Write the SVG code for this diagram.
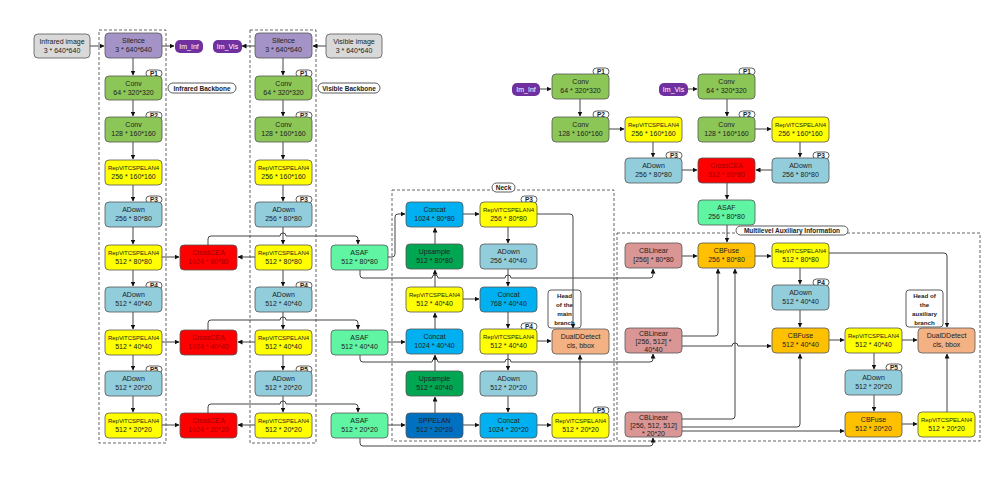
<svg xmlns="http://www.w3.org/2000/svg" width="1000" height="477" viewBox="0 0 1000 477">
<defs>
<marker id="a" viewBox="0 0 10 10" refX="9" refY="5" markerWidth="5" markerHeight="5" orient="auto"><path d="M0,0L10,5L0,10z" fill="#111"/></marker>
<style>
text{font-family:"Liberation Sans",Arial,sans-serif;font-size:7px;text-anchor:middle;fill:#222}
rect.n{stroke:#555;stroke-width:0.8}
.gray{fill:#d9d9d9}.sil{fill:#a493c6}.conv{fill:#8cc657}.yel{fill:#ffff00}.ad{fill:#92cddc}.red{fill:#ff0000}
.asaf{fill:#5ff5a3}.cat{fill:#00b0f0}.ups{fill:#00a651}.spp{fill:#0070c0}.det{fill:#f4b183}.cbl{fill:#d99694}.cbf{fill:#ffc000}
.pill{fill:#7030a0}
text.w{fill:#fff}text.r{fill:#a00000}
.c path,.c line{fill:none;stroke:#444;stroke-width:1}
.dash{fill:none;stroke:#555;stroke-width:0.9;stroke-dasharray:3,2}
.tag{fill:#fff;stroke:#333;stroke-width:0.8}
text.t{font-size:6.5px;font-weight:bold}
text.b{font-weight:bold;font-size:6.2px}
</style>
</defs>
<rect width="1000" height="477" fill="#fff"/>
<rect class="dash" x="99" y="30" width="67" height="413"/>
<rect class="dash" x="250" y="30" width="66" height="413"/>
<rect class="dash" x="392" y="190" width="222" height="251"/>
<rect class="dash" x="617" y="233" width="363" height="208"/>
<g id="labels">
<rect class="tag" x="168" y="83" width="68" height="10" rx="5"/><text class="t" x="202" y="90.5">Infrared Backbone</text>
<rect class="tag" x="318" y="83" width="62" height="10" rx="5"/><text class="t" x="349" y="90.5">Visible Backbone</text>
<rect class="tag" x="492" y="183" width="23" height="9" rx="4.5"/><text class="t" x="503.5" y="190">Neck</text>
<rect class="tag" x="736" y="226" width="112" height="9" rx="4.5"/><text class="t" x="792" y="233">Multilevel Auxiliary Information</text>
<rect class="tag" x="548" y="290" width="33" height="38" rx="3"/><text class="b" x="564.5" y="298">Head</text><text class="b" x="564.5" y="307">of the</text><text class="b" x="564.5" y="316">main</text><text class="b" x="564.5" y="325">branch</text>
<rect class="tag" x="906" y="290" width="37" height="37" rx="3"/><text class="b" x="924.5" y="298">Head of</text><text class="b" x="924.5" y="307">the</text><text class="b" x="924.5" y="316">auxiliary</text><text class="b" x="924.5" y="325">branch</text>
</g>
<g id="ptags">
<rect class="tag" x="146" y="70" width="16" height="7" rx="3.5"/><text class="t" x="154" y="75.8">P1</text>
<rect class="tag" x="146" y="112" width="16" height="7" rx="3.5"/><text class="t" x="154" y="117.8">P2</text>
<rect class="tag" x="146" y="196" width="16" height="7" rx="3.5"/><text class="t" x="154" y="201.8">P3</text>
<rect class="tag" x="146" y="282" width="16" height="7" rx="3.5"/><text class="t" x="154" y="287.8">P4</text>
<rect class="tag" x="146" y="366" width="16" height="7" rx="3.5"/><text class="t" x="154" y="371.8">P5</text>
<rect class="tag" x="296" y="70" width="16" height="7" rx="3.5"/><text class="t" x="304" y="75.8">P1</text>
<rect class="tag" x="296" y="112" width="16" height="7" rx="3.5"/><text class="t" x="304" y="117.8">P2</text>
<rect class="tag" x="296" y="196" width="16" height="7" rx="3.5"/><text class="t" x="304" y="201.8">P3</text>
<rect class="tag" x="296" y="282" width="16" height="7" rx="3.5"/><text class="t" x="304" y="287.8">P4</text>
<rect class="tag" x="296" y="366" width="16" height="7" rx="3.5"/><text class="t" x="304" y="371.8">P5</text>
<rect class="tag" x="521" y="196" width="16" height="7" rx="3.5"/><text class="t" x="529" y="201.8">P3</text>
<rect class="tag" x="521" y="323" width="16" height="7" rx="3.5"/><text class="t" x="529" y="328.8">P4</text>
<rect class="tag" x="593" y="407" width="16" height="7" rx="3.5"/><text class="t" x="601" y="412.8">P5</text>
<rect class="tag" x="593" y="68" width="16" height="7" rx="3.5"/><text class="t" x="601" y="73.8">P1</text>
<rect class="tag" x="593" y="111" width="16" height="7" rx="3.5"/><text class="t" x="601" y="116.8">P2</text>
<rect class="tag" x="666" y="152" width="16" height="7" rx="3.5"/><text class="t" x="674" y="157.8">P3</text>
<rect class="tag" x="739" y="68" width="16" height="7" rx="3.5"/><text class="t" x="747" y="73.8">P1</text>
<rect class="tag" x="739" y="111" width="16" height="7" rx="3.5"/><text class="t" x="747" y="116.8">P2</text>
<rect class="tag" x="813" y="152" width="16" height="7" rx="3.5"/><text class="t" x="821" y="157.8">P3</text>
<rect class="tag" x="813" y="279" width="16" height="7" rx="3.5"/><text class="t" x="821" y="284.8">P4</text>
<rect class="tag" x="886" y="364" width="16" height="7" rx="3.5"/><text class="t" x="894" y="369.8">P5</text>
</g>
<g class="c" id="connectors">
<line x1="90" y1="46" x2="104" y2="46" marker-end="url(#a)"/>
<line x1="162" y1="46" x2="174" y2="46" marker-end="url(#a)"/>
<line x1="326" y1="46" x2="313" y2="46" marker-end="url(#a)"/>
<line x1="255" y1="46" x2="242" y2="46" marker-end="url(#a)"/>
<line x1="133" y1="58" x2="133" y2="75" marker-end="url(#a)"/>
<line x1="133" y1="100" x2="133" y2="116" marker-end="url(#a)"/>
<line x1="133" y1="142" x2="133" y2="159" marker-end="url(#a)"/>
<line x1="133" y1="185" x2="133" y2="201" marker-end="url(#a)"/>
<line x1="133" y1="227" x2="133" y2="244" marker-end="url(#a)"/>
<line x1="133" y1="270" x2="133" y2="286" marker-end="url(#a)"/>
<line x1="133" y1="312" x2="133" y2="329" marker-end="url(#a)"/>
<line x1="133" y1="355" x2="133" y2="370" marker-end="url(#a)"/>
<line x1="133" y1="396" x2="133" y2="412" marker-end="url(#a)"/>
<line x1="283" y1="58" x2="283" y2="75" marker-end="url(#a)"/>
<line x1="283" y1="100" x2="283" y2="116" marker-end="url(#a)"/>
<line x1="283" y1="142" x2="283" y2="159" marker-end="url(#a)"/>
<line x1="283" y1="185" x2="283" y2="201" marker-end="url(#a)"/>
<line x1="283" y1="227" x2="283" y2="244" marker-end="url(#a)"/>
<line x1="283" y1="270" x2="283" y2="286" marker-end="url(#a)"/>
<line x1="283" y1="312" x2="283" y2="329" marker-end="url(#a)"/>
<line x1="283" y1="355" x2="283" y2="370" marker-end="url(#a)"/>
<line x1="283" y1="396" x2="283" y2="412" marker-end="url(#a)"/>
<line x1="162" y1="257" x2="179" y2="257" marker-end="url(#a)"/>
<line x1="162" y1="342" x2="179" y2="342" marker-end="url(#a)"/>
<line x1="162" y1="425" x2="179" y2="425" marker-end="url(#a)"/>
<line x1="255" y1="257" x2="238" y2="257" marker-end="url(#a)"/>
<line x1="255" y1="342" x2="238" y2="342" marker-end="url(#a)"/>
<line x1="255" y1="425" x2="238" y2="425" marker-end="url(#a)"/>
<path d="M208,245V239Q208,236 211,236H280a3,3 0 0 1 6,0H355Q358,236 358,239V244" marker-end="url(#a)"/>
<path d="M208,330V323Q208,320 211,320H280a3,3 0 0 1 6,0H355Q358,320 358,323V329" marker-end="url(#a)"/>
<path d="M208,413V407Q208,404 211,404H280a3,3 0 0 1 6,0H355Q358,404 358,407V412" marker-end="url(#a)"/>
<path d="M388,257H392Q395,257 395,254V217Q395,214 398,214H405" marker-end="url(#a)"/>
<line x1="388" y1="342" x2="405" y2="342" marker-end="url(#a)"/>
<line x1="388" y1="425" x2="405" y2="425" marker-end="url(#a)"/>
<path d="M360,270V275Q360,278 363,278H432a3,3 0 0 1 6,0H505a3,3 0 0 1 6,0H650Q653,278 653,275V269" marker-end="url(#a)"/>
<path d="M360,355V359Q360,362 363,362H432a3,3 0 0 1 6,0H505a3,3 0 0 1 6,0H650Q653,362 653,359V354" marker-end="url(#a)"/>
<path d="M360,438V443Q360,446 363,446H650Q653,446 653,443V438" marker-end="url(#a)"/>
<line x1="435" y1="413" x2="435" y2="397" marker-end="url(#a)"/>
<line x1="435" y1="371" x2="435" y2="355" marker-end="url(#a)"/>
<line x1="435" y1="329" x2="435" y2="313" marker-end="url(#a)"/>
<line x1="435" y1="287" x2="435" y2="270" marker-end="url(#a)"/>
<line x1="435" y1="244" x2="435" y2="228" marker-end="url(#a)"/>
<line x1="463" y1="214" x2="479" y2="214" marker-end="url(#a)"/>
<line x1="463" y1="299" x2="479" y2="299" marker-end="url(#a)"/>
<line x1="463" y1="425" x2="479" y2="425" marker-end="url(#a)"/>
<line x1="537" y1="425" x2="551" y2="425" marker-end="url(#a)"/>
<line x1="508" y1="227" x2="508" y2="243" marker-end="url(#a)"/>
<line x1="508" y1="269" x2="508" y2="286" marker-end="url(#a)"/>
<line x1="508" y1="312" x2="508" y2="328" marker-end="url(#a)"/>
<line x1="508" y1="354" x2="508" y2="370" marker-end="url(#a)"/>
<line x1="508" y1="396" x2="508" y2="412" marker-end="url(#a)"/>
<line x1="537" y1="341" x2="551" y2="341" marker-end="url(#a)"/>
<path d="M537,214H570Q573,214 573,217V328" marker-end="url(#a)"/>
<line x1="580" y1="413" x2="580" y2="355" marker-end="url(#a)"/>
<line x1="540" y1="89" x2="551" y2="89" marker-end="url(#a)"/>
<line x1="688" y1="89" x2="697" y2="89" marker-end="url(#a)"/>
<line x1="580" y1="99" x2="580" y2="116" marker-end="url(#a)"/>
<line x1="727" y1="99" x2="727" y2="116" marker-end="url(#a)"/>
<line x1="609" y1="129" x2="624" y2="129" marker-end="url(#a)"/>
<line x1="755" y1="129" x2="771" y2="129" marker-end="url(#a)"/>
<line x1="653" y1="142" x2="653" y2="157" marker-end="url(#a)"/>
<line x1="800" y1="142" x2="800" y2="157" marker-end="url(#a)"/>
<line x1="682" y1="170" x2="697" y2="170" marker-end="url(#a)"/>
<line x1="772" y1="170" x2="756" y2="170" marker-end="url(#a)"/>
<line x1="727" y1="183" x2="727" y2="199" marker-end="url(#a)"/>
<line x1="727" y1="225" x2="727" y2="242" marker-end="url(#a)"/>
<line x1="682" y1="256" x2="697" y2="256" marker-end="url(#a)"/>
<line x1="755" y1="256" x2="771" y2="256" marker-end="url(#a)"/>
<line x1="800" y1="268" x2="800" y2="284" marker-end="url(#a)"/>
<line x1="800" y1="310" x2="800" y2="327" marker-end="url(#a)"/>
<line x1="829" y1="340" x2="844" y2="340" marker-end="url(#a)"/>
<line x1="902" y1="340" x2="917" y2="340" marker-end="url(#a)"/>
<line x1="874" y1="353" x2="874" y2="369" marker-end="url(#a)"/>
<line x1="874" y1="395" x2="874" y2="411" marker-end="url(#a)"/>
<line x1="902" y1="424" x2="917" y2="424" marker-end="url(#a)"/>
<line x1="947" y1="412" x2="947" y2="354" marker-end="url(#a)"/>
<path d="M829,253H944Q947,253 947,256V327" marker-end="url(#a)"/>
<path d="M682,336H715Q718,336 718,333V269" marker-end="url(#a)"/>
<path d="M682,346H732a3,3 0 0 1 6,0H771" marker-end="url(#a)"/>
<path d="M682,419H732Q735,419 735,416V269" marker-end="url(#a)"/>
<path d="M682,427H797Q800,427 800,424V354" marker-end="url(#a)"/>
<line x1="682" y1="431" x2="844" y2="431" marker-end="url(#a)"/>
</g>
<g id="nodes">
<g id="inf_img"><rect class="n gray" x="34" y="34" width="56" height="24" rx="4"/><text x="62" y="44">Infrared image</text><text x="62" y="53">3 * 640*640</text></g>
<g id="vis_img"><rect class="n gray" x="326" y="34" width="56" height="24" rx="4"/><text x="354" y="44">Visible image</text><text x="354" y="53">3 * 640*640</text></g>
<g id="sil_i"><rect class="n sil" x="105" y="33" width="57" height="25" rx="4"/><text x="133.5" y="43">Silence</text><text x="133.5" y="52">3 * 640*640</text></g>
<g id="sil_v"><rect class="n sil" x="255" y="33" width="57" height="25" rx="4"/><text x="283.5" y="43">Silence</text><text x="283.5" y="52">3 * 640*640</text></g>
<g id="im_inf1"><rect class="pill" x="175" y="40" width="28" height="13" rx="5"/><text class="w" x="189" y="49">Im_Inf</text></g>
<g id="im_vis1"><rect class="pill" x="213" y="40" width="29" height="13" rx="5"/><text class="w" x="227.5" y="49">Im_Vis</text></g>
<g id="i_c1"><rect class="n conv" x="105" y="76" width="57" height="24" rx="4"/><text x="133.5" y="86">Conv</text><text x="133.5" y="95">64 * 320*320</text></g>
<g id="i_c2"><rect class="n conv" x="105" y="117" width="57" height="25" rx="4"/><text x="133.5" y="127">Conv</text><text x="133.5" y="136">128 * 160*160</text></g>
<g id="i_r1"><rect class="n yel" x="105" y="160" width="57" height="25" rx="4"/><text x="133.5" y="170" style="font-size:6px">RepViTCSPELAN4</text><text x="133.5" y="179">256 * 160*160</text></g>
<g id="i_a1"><rect class="n ad" x="105" y="202" width="57" height="25" rx="4"/><text x="133.5" y="212">ADown</text><text x="133.5" y="221">256 * 80*80</text></g>
<g id="i_r2"><rect class="n yel" x="105" y="245" width="57" height="25" rx="4"/><text x="133.5" y="255" style="font-size:6px">RepViTCSPELAN4</text><text x="133.5" y="264">512 * 80*80</text></g>
<g id="i_a2"><rect class="n ad" x="105" y="287" width="57" height="25" rx="4"/><text x="133.5" y="297">ADown</text><text x="133.5" y="306">512 * 40*40</text></g>
<g id="i_r3"><rect class="n yel" x="105" y="330" width="57" height="25" rx="4"/><text x="133.5" y="340" style="font-size:6px">RepViTCSPELAN4</text><text x="133.5" y="349">512 * 40*40</text></g>
<g id="i_a3"><rect class="n ad" x="105" y="371" width="57" height="25" rx="4"/><text x="133.5" y="381">ADown</text><text x="133.5" y="390">512 * 20*20</text></g>
<g id="i_r4"><rect class="n yel" x="105" y="413" width="57" height="25" rx="4"/><text x="133.5" y="423" style="font-size:6px">RepViTCSPELAN4</text><text x="133.5" y="432">512 * 20*20</text></g>
<g id="v_c1"><rect class="n conv" x="255" y="76" width="57" height="24" rx="4"/><text x="283.5" y="86">Conv</text><text x="283.5" y="95">64 * 320*320</text></g>
<g id="v_c2"><rect class="n conv" x="255" y="117" width="57" height="25" rx="4"/><text x="283.5" y="127">Conv</text><text x="283.5" y="136">128 * 160*160</text></g>
<g id="v_r1"><rect class="n yel" x="255" y="160" width="57" height="25" rx="4"/><text x="283.5" y="170" style="font-size:6px">RepViTCSPELAN4</text><text x="283.5" y="179">256 * 160*160</text></g>
<g id="v_a1"><rect class="n ad" x="255" y="202" width="57" height="25" rx="4"/><text x="283.5" y="212">ADown</text><text x="283.5" y="221">256 * 80*80</text></g>
<g id="v_r2"><rect class="n yel" x="255" y="245" width="57" height="25" rx="4"/><text x="283.5" y="255" style="font-size:6px">RepViTCSPELAN4</text><text x="283.5" y="264">512 * 80*80</text></g>
<g id="v_a2"><rect class="n ad" x="255" y="287" width="57" height="25" rx="4"/><text x="283.5" y="297">ADown</text><text x="283.5" y="306">512 * 40*40</text></g>
<g id="v_r3"><rect class="n yel" x="255" y="330" width="57" height="25" rx="4"/><text x="283.5" y="340" style="font-size:6px">RepViTCSPELAN4</text><text x="283.5" y="349">512 * 40*40</text></g>
<g id="v_a3"><rect class="n ad" x="255" y="371" width="57" height="25" rx="4"/><text x="283.5" y="381">ADown</text><text x="283.5" y="390">512 * 20*20</text></g>
<g id="v_r4"><rect class="n yel" x="255" y="413" width="57" height="25" rx="4"/><text x="283.5" y="423" style="font-size:6px">RepViTCSPELAN4</text><text x="283.5" y="432">512 * 20*20</text></g>
<g id="cc1"><rect class="n red" x="180" y="245" width="57" height="25" rx="4"/><text class="r" x="208.5" y="255">CrossCEA</text><text class="r" x="208.5" y="264">1024 * 80*80</text></g>
<g id="cc2"><rect class="n red" x="180" y="330" width="57" height="25" rx="4"/><text class="r" x="208.5" y="340">CrossCEA</text><text class="r" x="208.5" y="349">1024 * 40*40</text></g>
<g id="cc3"><rect class="n red" x="180" y="413" width="57" height="25" rx="4"/><text class="r" x="208.5" y="423">CrossCEA</text><text class="r" x="208.5" y="432">1024 * 20*20</text></g>
<g id="asaf1"><rect class="n asaf" x="331" y="245" width="57" height="25" rx="4"/><text x="359.5" y="255">ASAF</text><text x="359.5" y="264">512 * 80*80</text></g>
<g id="asaf2"><rect class="n asaf" x="331" y="330" width="57" height="25" rx="4"/><text x="359.5" y="340">ASAF</text><text x="359.5" y="349">512 * 40*40</text></g>
<g id="asaf3"><rect class="n asaf" x="331" y="413" width="57" height="25" rx="4"/><text x="359.5" y="423">ASAF</text><text x="359.5" y="432">512 * 20*20</text></g>
<g id="n_cat1"><rect class="n cat" x="406" y="202" width="57" height="25" rx="4"/><text x="434.5" y="212">Concat</text><text x="434.5" y="221">1024 * 80*80</text></g>
<g id="n_up1"><rect class="n ups" x="406" y="244" width="57" height="25" rx="4"/><text x="434.5" y="254">Upsample</text><text x="434.5" y="263">512 * 80*80</text></g>
<g id="n_r1"><rect class="n yel" x="406" y="287" width="57" height="25" rx="4"/><text x="434.5" y="297" style="font-size:6px">RepViTCSPELAN4</text><text x="434.5" y="306">512 * 40*40</text></g>
<g id="n_cat2"><rect class="n cat" x="406" y="329" width="57" height="25" rx="4"/><text x="434.5" y="339">Concat</text><text x="434.5" y="348">1024 * 40*40</text></g>
<g id="n_up2"><rect class="n ups" x="406" y="371" width="57" height="25" rx="4"/><text x="434.5" y="381">Upsample</text><text x="434.5" y="390">512 * 40*40</text></g>
<g id="n_spp"><rect class="n spp" x="406" y="413" width="57" height="25" rx="4"/><text x="434.5" y="423">SPPELAN</text><text x="434.5" y="432">512 * 20*20</text></g>
<g id="n_r2"><rect class="n yel" x="480" y="202" width="57" height="25" rx="4"/><text x="508.5" y="212" style="font-size:6px">RepViTCSPELAN4</text><text x="508.5" y="221">256 * 80*80</text></g>
<g id="n_a1"><rect class="n ad" x="480" y="244" width="57" height="25" rx="4"/><text x="508.5" y="254">ADown</text><text x="508.5" y="263">256 * 40*40</text></g>
<g id="n_cat3"><rect class="n cat" x="480" y="287" width="57" height="25" rx="4"/><text x="508.5" y="297">Concat</text><text x="508.5" y="306">768 * 40*40</text></g>
<g id="n_r3"><rect class="n yel" x="480" y="329" width="57" height="25" rx="4"/><text x="508.5" y="339" style="font-size:6px">RepViTCSPELAN4</text><text x="508.5" y="348">512 * 40*40</text></g>
<g id="n_a2"><rect class="n ad" x="480" y="371" width="57" height="25" rx="4"/><text x="508.5" y="381">ADown</text><text x="508.5" y="390">512 * 20*20</text></g>
<g id="n_cat4"><rect class="n cat" x="480" y="413" width="57" height="25" rx="4"/><text x="508.5" y="423">Concat</text><text x="508.5" y="432">1024 * 20*20</text></g>
<g id="n_det"><rect class="n det" x="552" y="329" width="57" height="25" rx="4"/><text x="580.5" y="339">DualDDetect</text><text x="580.5" y="348">cls, bbox</text></g>
<g id="n_r4"><rect class="n yel" x="552" y="413" width="57" height="25" rx="4"/><text x="580.5" y="423" style="font-size:6px">RepViTCSPELAN4</text><text x="580.5" y="432">512 * 20*20</text></g>
<g id="im_inf2"><rect class="pill" x="512" y="83" width="28" height="13" rx="5"/><text class="w" x="526" y="92">Im_Inf</text></g>
<g id="im_vis2"><rect class="pill" x="659" y="83" width="29" height="13" rx="5"/><text class="w" x="673.5" y="92">Im_Vis</text></g>
<g id="a_ic1"><rect class="n conv" x="552" y="74" width="57" height="25" rx="4"/><text x="580.5" y="84">Conv</text><text x="580.5" y="93">64 * 320*320</text></g>
<g id="a_ic2"><rect class="n conv" x="552" y="117" width="57" height="25" rx="4"/><text x="580.5" y="127">Conv</text><text x="580.5" y="136">128 * 160*160</text></g>
<g id="a_ir"><rect class="n yel" x="625" y="117" width="57" height="25" rx="4"/><text x="653.5" y="127" style="font-size:6px">RepViTCSPELAN4</text><text x="653.5" y="136">256 * 160*160</text></g>
<g id="a_ia"><rect class="n ad" x="625" y="158" width="57" height="25" rx="4"/><text x="653.5" y="168">ADown</text><text x="653.5" y="177">256 * 80*80</text></g>
<g id="a_vc1"><rect class="n conv" x="698" y="74" width="57" height="25" rx="4"/><text x="726.5" y="84">Conv</text><text x="726.5" y="93">64 * 320*320</text></g>
<g id="a_vc2"><rect class="n conv" x="698" y="117" width="57" height="25" rx="4"/><text x="726.5" y="127">Conv</text><text x="726.5" y="136">128 * 160*160</text></g>
<g id="a_vr"><rect class="n yel" x="772" y="117" width="57" height="25" rx="4"/><text x="800.5" y="127" style="font-size:6px">RepViTCSPELAN4</text><text x="800.5" y="136">256 * 160*160</text></g>
<g id="a_va"><rect class="n ad" x="772" y="158" width="57" height="25" rx="4"/><text x="800.5" y="168">ADown</text><text x="800.5" y="177">256 * 80*80</text></g>
<g id="a_cc"><rect class="n red" x="698" y="158" width="57" height="25" rx="4"/><text class="r" x="726.5" y="168">CrossCEA</text><text class="r" x="726.5" y="177">512 * 80*80</text></g>
<g id="a_asaf"><rect class="n asaf" x="698" y="200" width="57" height="25" rx="4"/><text x="726.5" y="210">ASAF</text><text x="726.5" y="219">256 * 80*80</text></g>
<g id="cbl1"><rect class="n cbl" x="625" y="243" width="57" height="25" rx="4"/><text x="653.5" y="253">CBLinear</text><text x="653.5" y="262">[256] * 80*80</text></g>
<g id="cbl2"><rect class="n cbl" x="625" y="328" width="57" height="25" rx="4"/><text x="653.5" y="336">CBLinear</text><text x="653.5" y="344">[256, 512] *</text><text x="653.5" y="352">40*40</text></g>
<g id="cbl3"><rect class="n cbl" x="625" y="412" width="57" height="25" rx="4"/><text x="653.5" y="420">CBLinear</text><text x="653.5" y="428">[256, 512, 512]</text><text x="653.5" y="436">* 20*20</text></g>
<g id="cbf1"><rect class="n cbf" x="698" y="243" width="57" height="25" rx="4"/><text x="726.5" y="253">CBFuse</text><text x="726.5" y="262">256 * 80*80</text></g>
<g id="x_r1"><rect class="n yel" x="772" y="243" width="57" height="25" rx="4"/><text x="800.5" y="253" style="font-size:6px">RepViTCSPELAN4</text><text x="800.5" y="262">512 * 80*80</text></g>
<g id="x_a1"><rect class="n ad" x="772" y="285" width="57" height="25" rx="4"/><text x="800.5" y="295">ADown</text><text x="800.5" y="304">512 * 40*40</text></g>
<g id="cbf2"><rect class="n cbf" x="772" y="328" width="57" height="25" rx="4"/><text x="800.5" y="338">CBFuse</text><text x="800.5" y="347">512 * 40*40</text></g>
<g id="x_r2"><rect class="n yel" x="845" y="328" width="57" height="25" rx="4"/><text x="873.5" y="338" style="font-size:6px">RepViTCSPELAN4</text><text x="873.5" y="347">512 * 40*40</text></g>
<g id="x_det"><rect class="n det" x="918" y="328" width="57" height="25" rx="4"/><text x="946.5" y="338">DualDDetect</text><text x="946.5" y="347">cls, bbox</text></g>
<g id="x_a2"><rect class="n ad" x="845" y="370" width="57" height="25" rx="4"/><text x="873.5" y="380">ADown</text><text x="873.5" y="389">512 * 20*20</text></g>
<g id="cbf3"><rect class="n cbf" x="845" y="412" width="57" height="25" rx="4"/><text x="873.5" y="422">CBFuse</text><text x="873.5" y="431">512 * 20*20</text></g>
<g id="x_r3"><rect class="n yel" x="918" y="412" width="57" height="25" rx="4"/><text x="946.5" y="422" style="font-size:6px">RepViTCSPELAN4</text><text x="946.5" y="431">512 * 20*20</text></g>
</g>
</svg>
